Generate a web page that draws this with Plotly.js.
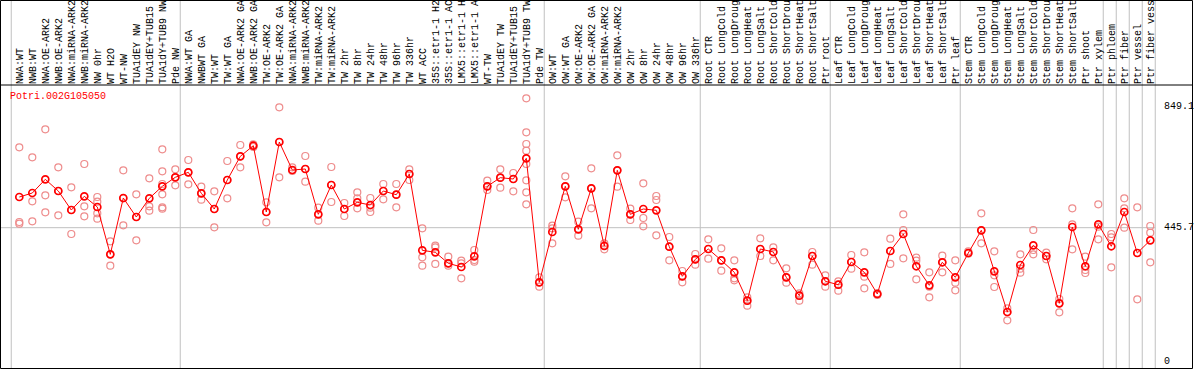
<!DOCTYPE html>
<html>
<head>
<meta charset="utf-8">
<script src="https://cdn.plot.ly/plotly-3.0.1.min.js"></script>
<style>html,body{margin:0;padding:0;background:#fff;}#chart{width:1194px;height:370px;}</style>
</head>
<body>
<div id="chart"></div>
<script>
const geneName = "Potri.002G105050";

const categories = [
  "NWA:WT","NWB:WT","NWA:OE-ARK2","NWB:OE-ARK2","NWA:miRNA-ARK2","NWB:miRNA-ARK2","NW 0hr","WT H2O","WT-NW","TUA1dEY NW",
  "TUA1dEY+TUB15 NW","TUA1dY+TUB9 NW","Pde NW","NWA:WT GA","NWBWT GA","TW:WT","TW:WT GA","NWA:OE-ARK2 GA","NWB:OE-ARK2 GA","TW:OE-ARK2",
  "TW:OE-ARK2 GA","NWA:miRNA-ARK2 GA","NWB:miRNA-ARK2 GA","TW:miRNA-ARK2","TW:miRNA-ARK2 GA","TW 2hr","TW 8hr","TW 24hr","TW 48hr","TW 96hr",
  "TW 336hr","WT ACC","35S::etr1-1 H2O","35S::etr1-1 ACC","LMX5::etr1-1 H2O","LMX5::etr1-1 ACC","WT-TW","TUA1dEY TW","TUA1dEY+TUB15 TW","TUA1dY+TUB9 TW",
  "Pde TW","OW:WT","OW:WT GA","OW:OE-ARK2","OW:OE-ARK2 GA","OW:miRNA-ARK2","OW:miRNA-ARK2 GA","OW 2hr","OW 8hr","OW 24hr",
  "OW 48hr","OW 96hr","OW 336hr","Root CTR","Root LongCold","Root LongDrought","Root LongHeat","Root LongSalt","Root ShortCold","Root ShortDrought",
  "Root ShortHeat","Root ShortSalt","Ptr root","Leaf CTR","Leaf LongCold","Leaf LongDrought","Leaf LongHeat","Leaf LongSalt","Leaf ShortCold","Leaf ShortDrought",
  "Leaf ShortHeat","Leaf ShortSalt","Ptr leaf","Stem CTR","Stem LongCold","Stem LongDrought","Stem LongHeat","Stem LongSalt","Stem ShortCold","Stem ShortDrought",
  "Stem ShortHeat","Stem ShortSalt","Ptr shoot","Ptr xylem","Ptr phloem","Ptr fiber","Ptr vessel","Ptr fiber vessel"
];

const meanValues = [
  547.7, 561.0, 606.5, 567.7, 504.5, 550.0, 514.5, 357.0, 544.4, 481.2,
  543.4, 583.3, 613.2, 629.8, 560.0, 507.8, 604.3, 683.0, 718.3, 497.8,
  730.6, 637.5, 640.8, 490.2, 587.6, 507.8, 530.0, 521.0, 567.7, 555.4,
  624.2, 370.4, 363.8, 327.2, 315.0, 350.5, 583.3, 612.0, 607.6, 676.4,
  264.0, 431.3, 583.3, 440.3, 576.6, 384.8, 636.5, 490.2, 507.8, 503.5,
  382.4, 284.0, 340.5, 374.8, 337.2, 297.3, 203.0, 374.8, 364.8, 280.7,
  219.5, 351.5, 267.4, 256.0, 331.6, 297.3, 225.1, 368.1, 424.7, 317.3,
  254.0, 330.6, 280.7, 361.5, 437.0, 300.6, 165.3, 321.6, 387.0, 351.5,
  194.2, 448.0, 317.3, 456.9, 383.8, 497.8, 361.5, 403.7
];

const replicateValues = [
  [712.9, 464.6, 459.1], [679.7, 533.4, 466.9], [772.8, 553.3, 496.8], [646.4, 486.8, 567.7],
  [579.9, 424.7, 504.5], [657.5, 516.7, 483.5], [547.8, 532.2, 493.5, 475.7], [400.3, 319.4, 357.1],
  [636.5, 453.5, 543.3], [556.6, 403.7, 481.3], [609.8, 516.7, 502.3], [706.3, 633.1, 591.0, 556.6, 513.4, 509.0],
  [639.8, 586.6, 613.2], [670.8, 589.9, 629.8], [582.1, 538.9, 560.0], [566.6, 446.9, 507.9],
  [667.5, 543.3, 604.3], [720.7, 646.4, 683.0], [722.9, 718.5, 714.0], [530.0, 463.5, 497.9],
  [846.0, 613.2, 730.7], [646.4, 634.2, 637.6], [684.1, 598.8, 640.9], [512.3, 469.1, 490.1],
  [647.5, 531.1, 587.7], [527.8, 484.6, 507.9], [563.3, 543.3, 510.1], [544.4, 512.3, 497.9],
  [591.0, 540.0, 567.7], [591.0, 513.4, 555.5], [639.8, 624.3, 604.3], [443.6, 347.1, 319.4],
  [385.9, 380.4, 325.0], [349.3, 319.4, 327.2], [336.0, 327.2, 277.3], [371.5, 332.7, 338.3],
  [602.1, 571.0, 583.2], [639.8, 578.8, 612.1], [627.6, 566.6, 607.6], [875.9, 762.8, 724.0, 701.9, 657.5, 603.2, 563.3, 523.4],
  [280.6, 249.6, 264.0], [452.4, 443.6, 393.7], [616.5, 546.7, 583.2], [465.7, 419.2, 440.2],
  [643.1, 510.1, 576.6], [387.0, 373.7, 393.7], [686.3, 582.1, 636.5], [509.0, 471.3, 490.1],
  [593.2, 477.9, 450.2], [551.1, 537.8, 420.3], [414.7, 337.2, 382.6], [301.7, 264.0, 283.9],
  [358.2, 322.7, 340.5], [407.0, 342.7, 374.8], [377.1, 302.8, 337.2], [337.2, 277.3, 270.6],
  [214.1, 186.4, 203.0], [410.3, 351.6, 374.8], [380.4, 337.2, 364.9], [310.6, 262.9, 280.6],
  [227.4, 203.0, 219.7], [364.9, 322.7, 351.6], [287.3, 249.6, 267.3], [267.3, 236.3, 256.2],
  [354.9, 309.4, 331.6], [363.8, 282.8, 244.0], [228.0, 225.2, 222.0], [409.2, 325.0, 368.2],
  [490.1, 438.0, 343.8], [346.0, 336.0, 274.0], [297.2, 214.1, 249.6], [352.7, 297.2, 330.5],
  [337.2, 262.9, 237.4], [367.1, 359.3, 361.5], [493.5, 393.7, 436.9], [367.1, 248.5, 287.3],
  [177.5, 137.6, 165.3], [357.1, 296.1, 309.4], [438.0, 357.1, 371.5], [362.6, 340.5, 351.6],
  [208.6, 164.2, 194.2], [510.1, 373.7, 456.9], [349.3, 295.0, 305.0], [523.4, 407.0, 449.1],
  [424.7, 413.6, 313.9], [543.3, 510.1, 445.8], [513.4, 207.5, 361.5], [451.3, 429.2, 330.5]
];

// index of first sample in each group (last entry = end)
const groupStarts = [0, 13, 41, 53, 63, 73, 84, 85, 86, 87, 88];

const axisLabels = ["849.1", "445.7", "0"];
const axisLabelValues = [849.1, 445.7, 0];
const referenceLineValue = 445.7;

// ---- build ----
const idx = categories.map((_, i) => i);
const repX = [], repY = [];
replicateValues.forEach((arr, i) => arr.forEach(v => { repX.push(i); repY.push(v); }));

const W = 1194, H = 370, TOP = 85;
const xRange = [-1.485, 90.362];
const yRange = [-27.6, 920.2];
const sepOffset = -0.62;
const toPaperX = k => (k - xRange[0]) / (xRange[1] - xRange[0]);
const pxToPaperY = py => (H - py) / (H - TOP);

const mono = "Liberation Mono, DejaVu Sans Mono, monospace";

const shapes = [];
groupStarts.forEach(g => {
  const px = toPaperX(g + sepOffset);
  shapes.push({type: 'line', xref: 'paper', yref: 'paper', x0: px, x1: px,
    y0: pxToPaperY(369), y1: pxToPaperY(0), line: {color: '#c0c0c0', width: 1}, layer: 'below'});
});
shapes.push({type: 'line', xref: 'x', yref: 'y', x0: xRange[0], x1: groupStarts[groupStarts.length - 1] + sepOffset,
  y0: referenceLineValue, y1: referenceLineValue, line: {color: '#c0c0c0', width: 1}, layer: 'below'});
// frame
shapes.push({type: 'rect', xref: 'paper', yref: 'paper', x0: 0.5 / W, x1: 1192.5 / W,
  y0: pxToPaperY(368.5), y1: pxToPaperY(0.5), line: {color: '#000', width: 1}, layer: 'above'});
shapes.push({type: 'line', xref: 'paper', yref: 'paper', x0: 0, x1: 1192.5 / W,
  y0: pxToPaperY(85), y1: pxToPaperY(85), line: {color: '#000', width: 1}, layer: 'above'});

const annotations = [{
  text: geneName, xref: 'paper', yref: 'paper', x: 9 / W, y: pxToPaperY(96.7),
  xanchor: 'left', yanchor: 'middle', showarrow: false, borderpad: 0,
  font: {family: mono, size: 10, color: '#ff0000'}
}];
axisLabels.forEach((t, i) => annotations.push({
  text: t, xref: 'paper', yref: 'y', x: 1163 / W, y: axisLabelValues[i],
  xanchor: 'left', yanchor: 'middle', showarrow: false, borderpad: 0,
  font: {family: mono, size: 10, color: '#000'}
}));

const traces = [
  {x: repX, y: repY, type: 'scatter', mode: 'markers', hoverinfo: 'skip',
   marker: {symbol: 'circle-open', size: 7, color: 'rgb(238,140,140)', line: {width: 1.2, color: 'rgb(238,140,140)'}}},
  {x: idx, y: meanValues, type: 'scatter', mode: 'lines+markers', hoverinfo: 'skip',
   line: {color: '#ff0000', width: 1},
   marker: {symbol: 'circle-open', size: 7, color: '#ff0000', line: {width: 1.7, color: '#ff0000'}}}
];

const layout = {
  width: W, height: H,
  margin: {l: 0, r: 0, t: TOP, b: 0, pad: 0},
  paper_bgcolor: '#fff', plot_bgcolor: 'rgba(0,0,0,0)',
  showlegend: false,
  xaxis: {range: xRange, side: 'top', tickmode: 'array', tickvals: idx, ticktext: categories,
    tickangle: -90, ticks: '', showgrid: false, zeroline: false, showline: false, automargin: false,
    tickfont: {family: mono, size: 10, color: '#000'}, ticklabelstandoff: 0},
  yaxis: {range: yRange, showticklabels: false, showgrid: false, zeroline: false, showline: false, ticks: ''},
  shapes: shapes,
  annotations: annotations
};

Plotly.newPlot('chart', traces, layout, {staticPlot: true, displayModeBar: false});
</script>
</body>
</html>
